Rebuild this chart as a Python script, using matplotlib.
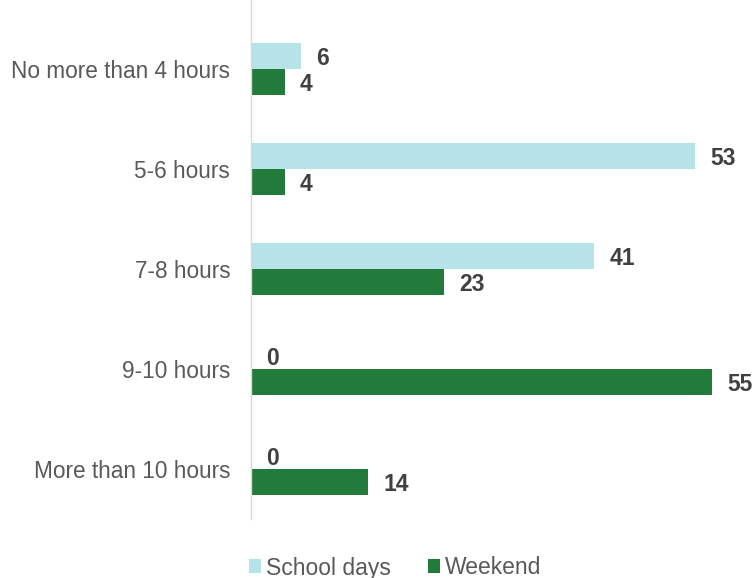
import matplotlib
matplotlib.use("Agg")
import matplotlib.pyplot as plt
import numpy as np

plt.rcParams['font.family'] = ['Liberation Sans', 'DejaVu Sans']

categories = ["No more than 4 hours", "5-6 hours", "7-8 hours", "9-10 hours", "More than 10 hours"]
school_days = [6, 53, 41, 0, 0]
weekend = [4, 4, 23, 55, 14]
series_names = ["School days", "Weekend"]
colors = ["#B6E3E8", "#237B3B"]

W, H = 753, 578
fig = plt.figure(figsize=(W / 100, H / 100), dpi=100)
left_px, right_px = 251, 740
top_px, bottom_px = 0, 519
ax = fig.add_axes([left_px / W, 1 - bottom_px / H, (right_px - left_px) / W, (bottom_px - top_px) / H])

y = np.arange(len(categories))
h = 0.26
b1 = ax.barh(y - h / 2, school_days, height=h, color=colors[0], label=series_names[0])
b2 = ax.barh(y + h / 2, weekend, height=h, color=colors[1], label=series_names[1])

ax.set_ylim(4.5, -0.69)
ax.set_xlim(0, (right_px - left_px) / 8.377)

for bars, vals in ((b1, school_days), (b2, weekend)):
    for bar, v in zip(bars, vals):
        ax.annotate(str(v), (v, bar.get_y() + bar.get_height() / 2),
                    xytext=(11, 0), textcoords="offset points",
                    ha="left", va="center_baseline", fontsize=16.5, fontweight="bold",
                    color="#404040")

ax.set_yticks(y)
ax.set_yticklabels(categories, fontsize=16.3, color="#595959")
ax.tick_params(axis="y", length=0, pad=15)
ax.set_xticks([])
for s in ("top", "right", "bottom"):
    ax.spines[s].set_visible(False)
ax.spines["left"].set_color("#D9D9D9")
ax.spines["left"].set_linewidth(1.0)

fig.legend(handles=[b1, b2], labels=series_names, loc="center",
           bbox_to_anchor=(395 / W, 1 - 568 / H), ncol=2, frameon=False,
           fontsize=16.5, labelcolor="#595959", handlelength=0.55, handleheight=0.55,
           handletextpad=0.2, columnspacing=1.6)

fig.savefig("out.png", dpi=100)
